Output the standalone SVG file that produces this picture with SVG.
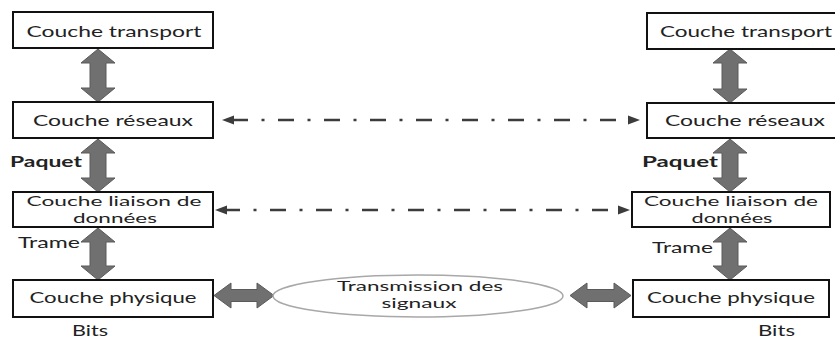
<svg xmlns="http://www.w3.org/2000/svg" width="835" height="338" viewBox="0 0 835 338">
<style>
.box{fill:#fff;stroke:#111;stroke-width:2}
.t{font-family:Lato,"Liberation Sans",sans-serif;font-size:16px;fill:#222;text-anchor:middle}
.t2{font-size:14px}
.lbl{font-family:Lato,"Liberation Sans",sans-serif;font-size:15px;fill:#222}
.b{font-weight:bold}
.dbl{fill:#707070;stroke:#5a5a5a;stroke-width:1}
.dash{fill:none;stroke:#3c3c3c;stroke-width:2.5;stroke-dasharray:16 13.5 3 13.5}
.ell{fill:#fff;stroke:#a8a8a8;stroke-width:1.5}
</style>
<defs>
<marker id="ah" markerUnits="userSpaceOnUse" markerWidth="14" markerHeight="12" refX="12" refY="5" orient="auto-start-reverse" viewBox="0 0 14 10">
<path d="M0,0.5 L12,5 L0,9.5 Z" fill="#3c3c3c"/>
</marker>
</defs>
<g id="connectors">
<path class="dbl" d="M98,49 L115,63 L106,63 L106,88 L115,88 L98,102 L81,88 L90,88 L90,63 L81,63 Z"/>
<path class="dbl" d="M98,139 L115,153 L106,153 L106,178 L115,178 L98,192 L81,178 L90,178 L90,153 L81,153 Z"/>
<path class="dbl" d="M98,228 L115,242 L106,242 L106,266 L115,266 L98,280 L81,266 L90,266 L90,242 L81,242 Z"/>
<path class="dbl" d="M730,49 L747,63 L738,63 L738,89 L747,89 L730,103 L713,89 L722,89 L722,63 L713,63 Z"/>
<path class="dbl" d="M730,139 L747,153 L738,153 L738,178 L747,178 L730,192 L713,178 L722,178 L722,153 L713,153 Z"/>
<path class="dbl" d="M730,228 L747,242 L738,242 L738,266 L747,266 L730,280 L713,266 L722,266 L722,242 L713,242 Z"/>
<path class="dbl" d="M214,295.5 L231,283 L231,289.5 L257,289.5 L257,283 L274,295.5 L257,308 L257,301.5 L231,301.5 L231,308 Z"/>
<path class="dbl" d="M570,295.5 L587,283 L587,289.5 L614,289.5 L614,283 L631,295.5 L614,308 L614,301.5 L587,301.5 L587,308 Z"/>
<line class="dash" x1="222" y1="120" x2="640" y2="120" stroke-dashoffset="36" marker-start="url(#ah)" marker-end="url(#ah)"/>
<line class="dash" x1="215" y1="210" x2="630" y2="210" stroke-dashoffset="37" marker-start="url(#ah)" marker-end="url(#ah)"/>
</g>
<g id="l-transport">
<rect class="box" x="13" y="12" width="200" height="36"/>
<text class="t" x="114" y="37" textLength="175" lengthAdjust="spacingAndGlyphs">Couche transport</text>
</g>
<g id="l-reseaux">
<rect class="box" x="13" y="102" width="200" height="36"/>
<text class="t" x="113" y="126" textLength="160" lengthAdjust="spacingAndGlyphs">Couche réseaux</text>
</g>
<g id="l-liaison">
<rect class="box" x="13" y="192" width="200" height="35"/>
<text class="t t2" x="114" y="206" textLength="175" lengthAdjust="spacingAndGlyphs">Couche liaison de</text>
<text class="t t2" x="115" y="223" textLength="84" lengthAdjust="spacingAndGlyphs">données</text>
</g>
<g id="l-physique">
<rect class="box" x="13" y="280" width="200" height="37"/>
<text class="t" x="113" y="303" textLength="167" lengthAdjust="spacingAndGlyphs">Couche physique</text>
</g>
<g id="r-transport">
<rect class="box" x="647" y="13" width="200" height="36"/>
<text class="t" x="746" y="37" textLength="172" lengthAdjust="spacingAndGlyphs">Couche transport</text>
</g>
<g id="r-reseaux">
<rect class="box" x="647" y="103" width="200" height="35"/>
<text class="t" x="745" y="126" textLength="160" lengthAdjust="spacingAndGlyphs">Couche réseaux</text>
</g>
<g id="r-liaison">
<rect class="box" x="632" y="192" width="198" height="35"/>
<text class="t t2" x="731" y="206" textLength="174" lengthAdjust="spacingAndGlyphs">Couche liaison de</text>
<text class="t t2" x="732" y="223" textLength="81" lengthAdjust="spacingAndGlyphs">données</text>
</g>
<g id="r-physique">
<rect class="box" x="633" y="280" width="196" height="37"/>
<text class="t" x="731" y="303" textLength="168" lengthAdjust="spacingAndGlyphs">Couche physique</text>
</g>
<g id="transmission">
<ellipse class="ell" cx="418" cy="296" rx="145" ry="21"/>
<text class="t t2" x="420" y="291" textLength="166" lengthAdjust="spacingAndGlyphs">Transmission des</text>
<text class="t t2" x="419" y="308" textLength="75" lengthAdjust="spacingAndGlyphs">signaux</text>
</g>
<g id="labels">
<text class="lbl b" x="10" y="167" textLength="72" lengthAdjust="spacingAndGlyphs">Paquet</text>
<text class="lbl" x="18" y="248" textLength="62" lengthAdjust="spacingAndGlyphs">Trame</text>
<text class="lbl" x="72" y="336" textLength="36" lengthAdjust="spacingAndGlyphs">Bits</text>
<text class="lbl b" x="642" y="167" textLength="76" lengthAdjust="spacingAndGlyphs">Paquet</text>
<text class="lbl" x="652" y="253" textLength="61" lengthAdjust="spacingAndGlyphs">Trame</text>
<text class="lbl" x="758" y="336" textLength="37" lengthAdjust="spacingAndGlyphs">Bits</text>
</g>
</svg>
